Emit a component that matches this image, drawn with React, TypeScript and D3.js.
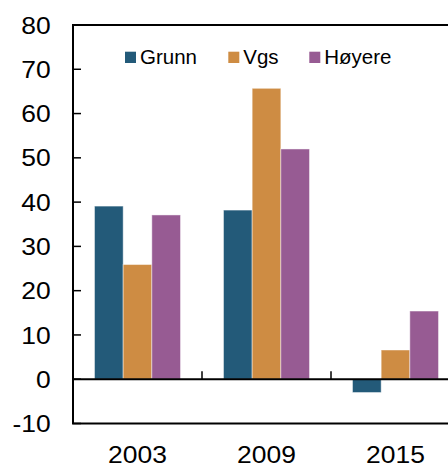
import React from "react";
import * as d3 from "d3";

const categories = ["2003", "2009", "2015"];
const seriesNames = ["Grunn", "Vgs", "Høyere"];
const grunn = [39.1, 38.2, -3.0];
const vgs = [25.9, 65.7, 6.6];
const hoyere = [37.1, 52.0, 15.4];
const yTicks = [-10, 0, 10, 20, 30, 40, 50, 60, 70, 80];

const colors = ["#235A79", "#CE8C43", "#975B93"];
const legendX = [125, 228.3, 309.3];

const W = 448;
const H = 465;
const left = 73;
const right = 460;
const top = 25;
const bottom = 423.5;

export default function App() {
  const values = [grunn, vgs, hoyere];
  const y = d3.scaleLinear().domain([-10, 80]).range([bottom, top]);
  const x0 = d3.scaleBand().domain(categories).range([left, right]).padding(0);
  const bw = x0.bandwidth();
  const x1 = d3
    .scaleBand()
    .domain(seriesNames)
    .range([bw / 6, (bw * 5) / 6])
    .padding(0);
  const y0 = y(0);
  const font = "Liberation Sans, Arial, sans-serif";

  return (
    <svg
      width={W}
      height={H}
      style={{ position: "absolute", left: 0, top: 0, background: "#fff" }}
    >
      {/* bars */}
      {categories.map((c, ci) =>
        seriesNames.map((s, si) => {
          const v = values[si][ci];
          const yy = Math.min(y(v), y0);
          const h = Math.abs(y(v) - y0);
          return (
            <rect
              key={c + s}
              x={(x0(c) as number) + (x1(s) as number)}
              y={yy}
              width={x1.bandwidth()}
              height={h}
              fill={colors[si]}
              stroke="#ffffff"
              strokeOpacity={0.45}
              strokeWidth={1}
            />
          );
        })
      )}
      {/* frame */}
      <rect
        x={left}
        y={top}
        width={right - left}
        height={bottom - top}
        fill="none"
        stroke="#000"
        strokeWidth={2}
      />
      {/* zero line */}
      <line x1={left} x2={right} y1={y0} y2={y0} stroke="#000" strokeWidth={2} />
      {/* y ticks */}
      {yTicks.map((t) => (
        <g key={t}>
          <line x1={left} x2={left + 8} y1={y(t)} y2={y(t)} stroke="#000" strokeWidth={1.5} />
          <text
            transform={`translate(50.6,${y(t) + 8.6}) scale(1.15,1)`}
            textAnchor="end"
            fontFamily={font}
            fontSize={23}
            fill="#000"
          >
            {t}
          </text>
        </g>
      ))}
      {/* x ticks between categories */}
      {categories.slice(1).map((c) => (
        <line
          key={c}
          x1={x0(c) as number}
          x2={x0(c) as number}
          y1={y0}
          y2={y0 - 8}
          stroke="#000"
          strokeWidth={1.5}
        />
      ))}
      {/* x labels */}
      {categories.map((c) => (
        <text
          key={c}
          transform={`translate(${(x0(c) as number) + bw / 2},${463.3}) scale(1.15,1)`}
          textAnchor="middle"
          fontFamily={font}
          fontSize={23}
          fill="#000"
        >
          {c}
        </text>
      ))}
      {/* legend */}
      {seriesNames.map((s, i) => (
        <g key={s}>
          <rect x={legendX[i]} y={51.7} width={11} height={11.3} fill={colors[i]} />
          <text
            x={legendX[i] + 15}
            y={64}
            fontFamily={font}
            fontSize={20.5}
            fill="#000"
          >
            {s}
          </text>
        </g>
      ))}
    </svg>
  );
}
